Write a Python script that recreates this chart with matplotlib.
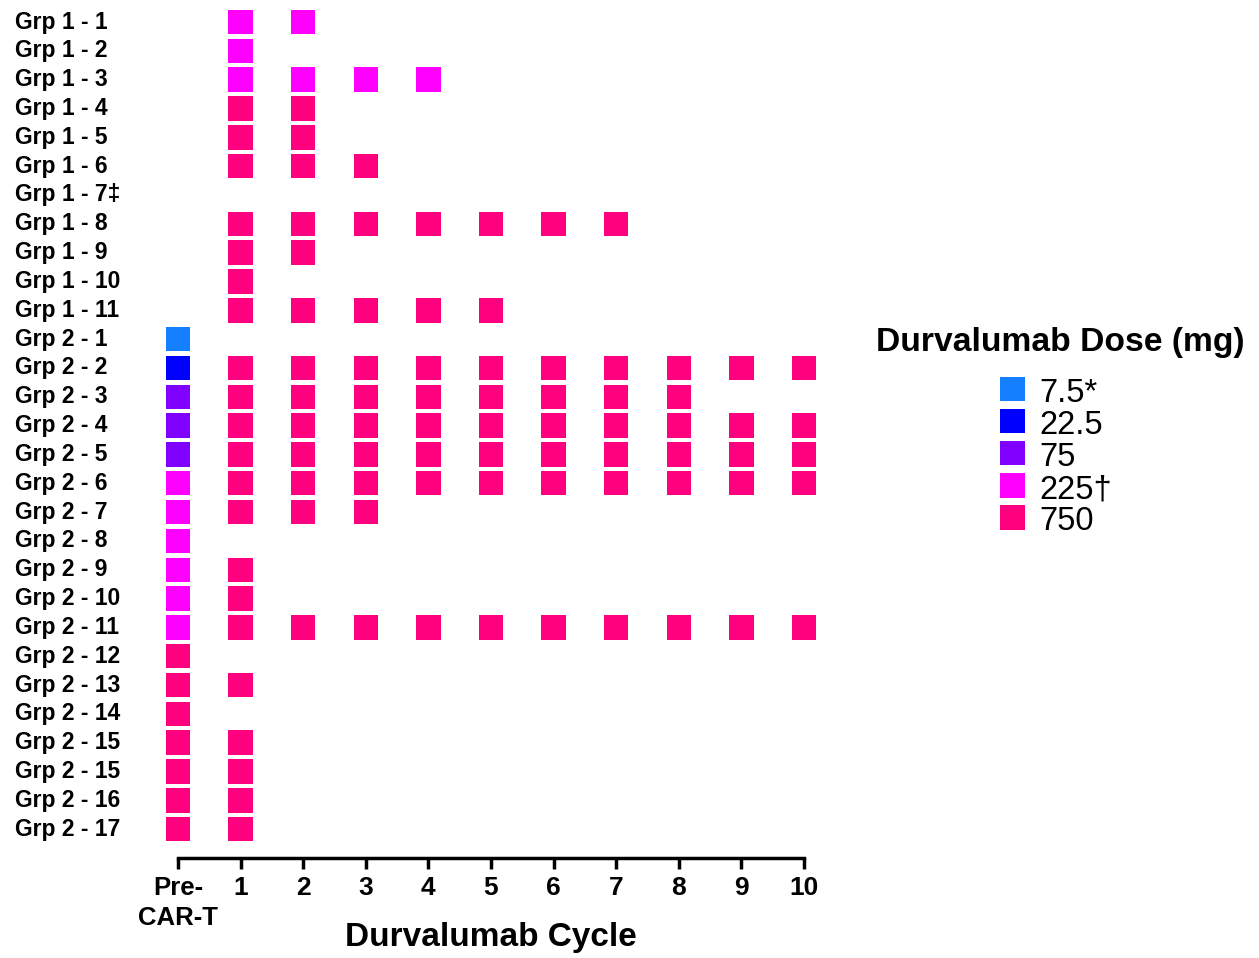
import matplotlib
matplotlib.use("Agg")
import matplotlib.pyplot as plt
import matplotlib.transforms as mtransforms
from matplotlib.patches import Rectangle
from matplotlib import font_manager

plt.rcParams['font.family'] = ['Liberation Sans', 'DejaVu Sans']

patients = ["Grp 1 - 1", "Grp 1 - 2", "Grp 1 - 3", "Grp 1 - 4", "Grp 1 - 5", "Grp 1 - 6",
            "Grp 1 - 7\u2021", "Grp 1 - 8", "Grp 1 - 9", "Grp 1 - 10", "Grp 1 - 11",
            "Grp 2 - 1", "Grp 2 - 2", "Grp 2 - 3", "Grp 2 - 4", "Grp 2 - 5", "Grp 2 - 6",
            "Grp 2 - 7", "Grp 2 - 8", "Grp 2 - 9", "Grp 2 - 10", "Grp 2 - 11", "Grp 2 - 12",
            "Grp 2 - 13", "Grp 2 - 14", "Grp 2 - 15", "Grp 2 - 15", "Grp 2 - 16", "Grp 2 - 17"]
# dose given pre-CAR-T (None = none)
pre_dose = [None] * 11 + [7.5, 22.5, 75, 75, 75, 225, 225, 225, 225, 225, 225,
                          750, 750, 750, 750, 750, 750, 750]
# number of durvalumab cycles after CAR-T
n_cycles = [2, 1, 4, 2, 2, 3, 0, 7, 2, 1, 5,
            0, 10, 8, 10, 10, 10, 3, 0, 1, 1, 10, 0, 1, 0, 1, 1, 1, 1]
# dose used for those cycles
cycle_dose = [225, 225, 225, 750, 750, 750, 750, 750, 750, 750, 750] + [750] * 18

cycle_labels = ["Pre-\nCAR-T", "1", "2", "3", "4", "5", "6", "7", "8", "9", "10"]
dose_levels = [7.5, 22.5, 75, 225, 750]
dose_labels = ["7.5*", "22.5", "75", "225\u2020", "750"]
dose_colors = ["#1480FF", "#0000FF", "#7F00FF", "#FF00FF", "#FF007F"]
cmap = dict(zip(dose_levels, dose_colors))

# pick a narrow font for the cycle digits if available
narrow_family, digit_size = 'Liberation Sans', 19
try:
    font_manager.findfont(font_manager.FontProperties(family='Liberation Sans Narrow', weight='bold'),
                          fallback_to_default=False)
    narrow_family, digit_size = 'Liberation Sans Narrow', 22
except Exception:
    pass

W, H = 1259, 958
fig = plt.figure(figsize=(W / 100, H / 100), dpi=100)
left, right = 178 / W, 804 / W
bottom, top = 1 - 858 / H, 1 - 7.6 / H
ax = fig.add_axes([left, bottom, right - left, top - bottom])

xs, ys, cs = [], [], []
for i in range(len(patients)):
    if pre_dose[i] is not None:
        xs.append(0); ys.append(i); cs.append(cmap[pre_dose[i]])
    for c in range(1, n_cycles[i] + 1):
        xs.append(c); ys.append(i); cs.append(cmap[cycle_dose[i]])
ax.scatter(xs, ys, c=cs, marker='s', s=310, linewidths=0, clip_on=False)

ax.set_xlim(0, 10)
ax.set_ylim(29, -0.5)
for s in ['top', 'right', 'left']:
    ax.spines[s].set_visible(False)
ax.spines['bottom'].set_linewidth(2.5)
ax.set_yticks([])
ax.set_xticks(range(11))
ax.set_xticklabels(cycle_labels, fontsize=digit_size, fontweight='bold',
                   family=[narrow_family, 'Liberation Sans'])
ax.tick_params(axis='x', length=8, width=2.5, pad=5)
pre_lbl = ax.get_xticklabels()[0]
pre_lbl.set_fontsize(18.5)
pre_lbl.set_family(['Liberation Sans'])
pre_lbl.set_linespacing(1.3)
ax.set_xlabel("Durvalumab Cycle", fontsize=24, fontweight='bold', va='center')
ax_h_px = 858 - 7.6
ax.xaxis.set_label_coords(0.5, -(938 - 858) / ax_h_px)

trans = mtransforms.blended_transform_factory(fig.transFigure, ax.transData)
for i, name in enumerate(patients):
    fig.text(15 / W, i, name, transform=trans, ha='left', va='center',
             fontsize=16.5, fontweight='bold')

# legend
fig.text(1060 / W, 1 - 343 / H, "Durvalumab Dose (mg)", ha='center', va='center',
         fontsize=24.2, fontweight='bold')
sq = 24.5
for k, (lab, col) in enumerate(zip(dose_labels, dose_colors)):
    yc = 389 + k * 32.1
    fig.patches.append(Rectangle((1000 / W, 1 - (yc + sq / 2) / H), sq / W, sq / H,
                                 transform=fig.transFigure, facecolor=col, edgecolor='none'))
    fig.text(1039 / W, 1 - (yc + 1) / H, lab, ha='left', va='center_baseline', fontsize=23.5)

fig.savefig("out.png", dpi=100)
